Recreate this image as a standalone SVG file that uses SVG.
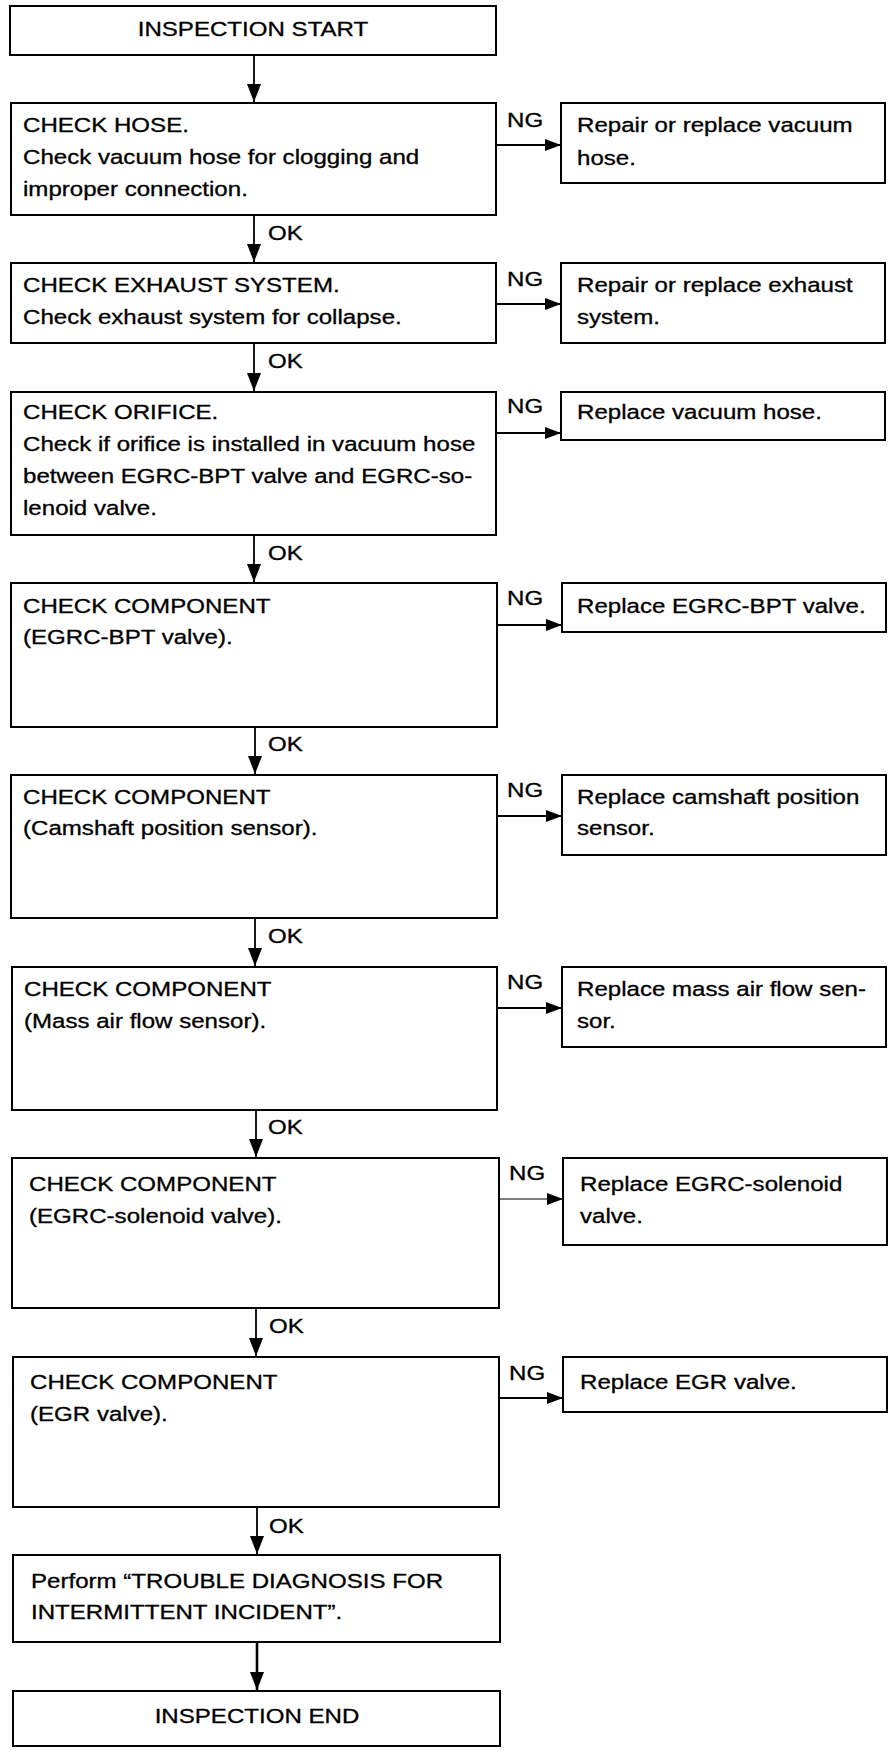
<svg xmlns="http://www.w3.org/2000/svg" width="896" height="1754" viewBox="0 0 896 1754">
<defs>
<style>
.box{fill:#fff;stroke:#000;stroke-width:2}
.t{font-family:"Liberation Sans",Arial,Helvetica,sans-serif;font-size:19.5px;fill:#000;stroke:#000;stroke-width:0.3}
.c{text-anchor:middle}
.ln{stroke:#000;stroke-width:1.8;fill:none}
</style>
<marker id="ah" viewBox="0 0 18 14" refX="18" refY="7" markerWidth="18" markerHeight="14" markerUnits="userSpaceOnUse" orient="auto">
<path d="M0,0 L18,7 L0,14 Z" fill="#000"/>
</marker>
<marker id="ahs" viewBox="0 0 16 12" refX="16" refY="6" markerWidth="16" markerHeight="12" markerUnits="userSpaceOnUse" orient="auto">
<path d="M0,0 L16,6 L0,12 Z" fill="#000"/>
</marker>
</defs>
<rect width="896" height="1754" fill="#fff"/>

<g id="connectors">
<path class="ln" d="M254,55 V102" marker-end="url(#ah)"/>
<path class="ln" d="M254,215 V262" marker-end="url(#ah)"/>
<path class="ln" d="M254,343 V391" marker-end="url(#ah)"/>
<path class="ln" d="M254,535 V582" marker-end="url(#ah)"/>
<path class="ln" d="M255,727 V774" marker-end="url(#ah)"/>
<path class="ln" d="M255,918 V966" marker-end="url(#ah)"/>
<path class="ln" d="M256,1110 V1157" marker-end="url(#ah)"/>
<path class="ln" d="M256,1308 V1356" marker-end="url(#ah)"/>
<path class="ln" d="M257,1507 V1554" marker-end="url(#ah)"/>
<path class="ln" style="stroke-width:2.6" d="M257,1642 V1690" marker-end="url(#ah)"/>

<path class="ln" d="M496,145 H561" marker-end="url(#ahs)"/>
<path class="ln" d="M496,304 H561" marker-end="url(#ahs)"/>
<path class="ln" d="M496,433 H561" marker-end="url(#ahs)"/>
<path class="ln" d="M497,625 H562" marker-end="url(#ahs)"/>
<path class="ln" d="M497,816 H562" marker-end="url(#ahs)"/>
<path class="ln" d="M497,1008 H562" marker-end="url(#ahs)"/>
<path class="ln" style="stroke-width:1.2" d="M499,1199 H563" marker-end="url(#ahs)"/>
<path class="ln" d="M499,1398 H563" marker-end="url(#ahs)"/>

<text class="t" transform="translate(268,240) scale(1.235,1)">OK</text>
<text class="t" transform="translate(268,368) scale(1.235,1)">OK</text>
<text class="t" transform="translate(268,560) scale(1.235,1)">OK</text>
<text class="t" transform="translate(268,751) scale(1.235,1)">OK</text>
<text class="t" transform="translate(268,943) scale(1.235,1)">OK</text>
<text class="t" transform="translate(268,1134) scale(1.235,1)">OK</text>
<text class="t" transform="translate(269,1333) scale(1.235,1)">OK</text>
<text class="t" transform="translate(269,1533) scale(1.235,1)">OK</text>

<text class="t" transform="translate(507,127) scale(1.235,1)">NG</text>
<text class="t" transform="translate(507,286) scale(1.235,1)">NG</text>
<text class="t" transform="translate(507,413) scale(1.235,1)">NG</text>
<text class="t" transform="translate(507,605) scale(1.235,1)">NG</text>
<text class="t" transform="translate(507,797) scale(1.235,1)">NG</text>
<text class="t" transform="translate(507,989) scale(1.235,1)">NG</text>
<text class="t" transform="translate(509,1180) scale(1.235,1)">NG</text>
<text class="t" transform="translate(509,1380) scale(1.235,1)">NG</text>
</g>

<g id="start">
<rect class="box" x="10" y="6" width="486" height="49"/>
<text class="t c" transform="translate(253,36) scale(1.235,1)">INSPECTION START</text>
</g>

<g id="check-hose">
<rect class="box" x="11" y="103" width="485" height="112"/>
<text class="t" transform="translate(23,132) scale(1.235,1)">CHECK HOSE.</text>
<text class="t" transform="translate(23,164) scale(1.235,1)">Check vacuum hose for clogging and</text>
<text class="t" transform="translate(23,196) scale(1.235,1)">improper connection.</text>
</g>
<g id="fix-hose">
<rect class="box" x="561" y="103" width="324" height="80"/>
<text class="t" transform="translate(577,132) scale(1.235,1)">Repair or replace vacuum</text>
<text class="t" transform="translate(577,165) scale(1.235,1)">hose.</text>
</g>

<g id="check-exhaust">
<rect class="box" x="11" y="263" width="485" height="80"/>
<text class="t" transform="translate(23,292) scale(1.235,1)">CHECK EXHAUST SYSTEM.</text>
<text class="t" transform="translate(23,324) scale(1.235,1)">Check exhaust system for collapse.</text>
</g>
<g id="fix-exhaust">
<rect class="box" x="561" y="263" width="324" height="80"/>
<text class="t" transform="translate(577,292) scale(1.235,1)">Repair or replace exhaust</text>
<text class="t" transform="translate(577,324) scale(1.235,1)">system.</text>
</g>

<g id="check-orifice">
<rect class="box" x="11" y="392" width="485" height="143"/>
<text class="t" transform="translate(23,419) scale(1.235,1)">CHECK ORIFICE.</text>
<text class="t" transform="translate(23,451) scale(1.235,1)">Check if orifice is installed in vacuum hose</text>
<text class="t" transform="translate(23,483) scale(1.235,1)">between EGRC-BPT valve and EGRC-so-</text>
<text class="t" transform="translate(23,515) scale(1.235,1)">lenoid valve.</text>
</g>
<g id="fix-orifice">
<rect class="box" x="561" y="392" width="324" height="48"/>
<text class="t" transform="translate(577,419) scale(1.235,1)">Replace vacuum hose.</text>
</g>

<g id="check-bpt">
<rect class="box" x="11" y="583" width="486" height="144"/>
<text class="t" transform="translate(23,613) scale(1.235,1)">CHECK COMPONENT</text>
<text class="t" transform="translate(23,644) scale(1.235,1)">(EGRC-BPT valve).</text>
</g>
<g id="fix-bpt">
<rect class="box" x="562" y="583" width="324" height="49"/>
<text class="t" transform="translate(577,613) scale(1.235,1)">Replace EGRC-BPT valve.</text>
</g>

<g id="check-cam">
<rect class="box" x="11" y="775" width="486" height="143"/>
<text class="t" transform="translate(23,804) scale(1.235,1)">CHECK COMPONENT</text>
<text class="t" transform="translate(23,835) scale(1.235,1)">(Camshaft position sensor).</text>
</g>
<g id="fix-cam">
<rect class="box" x="562" y="775" width="324" height="80"/>
<text class="t" transform="translate(577,804) scale(1.235,1)">Replace camshaft position</text>
<text class="t" transform="translate(577,835) scale(1.235,1)">sensor.</text>
</g>

<g id="check-maf">
<rect class="box" x="12" y="967" width="485" height="143"/>
<text class="t" transform="translate(24,996) scale(1.235,1)">CHECK COMPONENT</text>
<text class="t" transform="translate(24,1028) scale(1.235,1)">(Mass air flow sensor).</text>
</g>
<g id="fix-maf">
<rect class="box" x="562" y="967" width="324" height="80"/>
<text class="t" transform="translate(577,996) scale(1.235,1)">Replace mass air flow sen-</text>
<text class="t" transform="translate(577,1028) scale(1.235,1)">sor.</text>
</g>

<g id="check-sol">
<rect class="box" x="12" y="1158" width="487" height="150"/>
<text class="t" transform="translate(29,1191) scale(1.235,1)">CHECK COMPONENT</text>
<text class="t" transform="translate(29,1223) scale(1.235,1)">(EGRC-solenoid valve).</text>
</g>
<g id="fix-sol">
<rect class="box" x="563" y="1158" width="324" height="87"/>
<text class="t" transform="translate(580,1191) scale(1.235,1)">Replace EGRC-solenoid</text>
<text class="t" transform="translate(580,1223) scale(1.235,1)">valve.</text>
</g>

<g id="check-egr">
<rect class="box" x="13" y="1357" width="486" height="150"/>
<text class="t" transform="translate(30,1389) scale(1.235,1)">CHECK COMPONENT</text>
<text class="t" transform="translate(30,1421) scale(1.235,1)">(EGR valve).</text>
</g>
<g id="fix-egr">
<rect class="box" x="563" y="1357" width="324" height="55"/>
<text class="t" transform="translate(580,1389) scale(1.235,1)">Replace EGR valve.</text>
</g>

<g id="perform">
<rect class="box" x="13" y="1555" width="487" height="87"/>
<text class="t" transform="translate(31,1588) scale(1.235,1)">Perform “TROUBLE DIAGNOSIS FOR</text>
<text class="t" transform="translate(31,1619) scale(1.235,1)">INTERMITTENT INCIDENT”.</text>
</g>

<g id="end">
<rect class="box" x="13" y="1691" width="487" height="55"/>
<text class="t c" transform="translate(257,1723) scale(1.235,1)">INSPECTION END</text>
</g>
</svg>
